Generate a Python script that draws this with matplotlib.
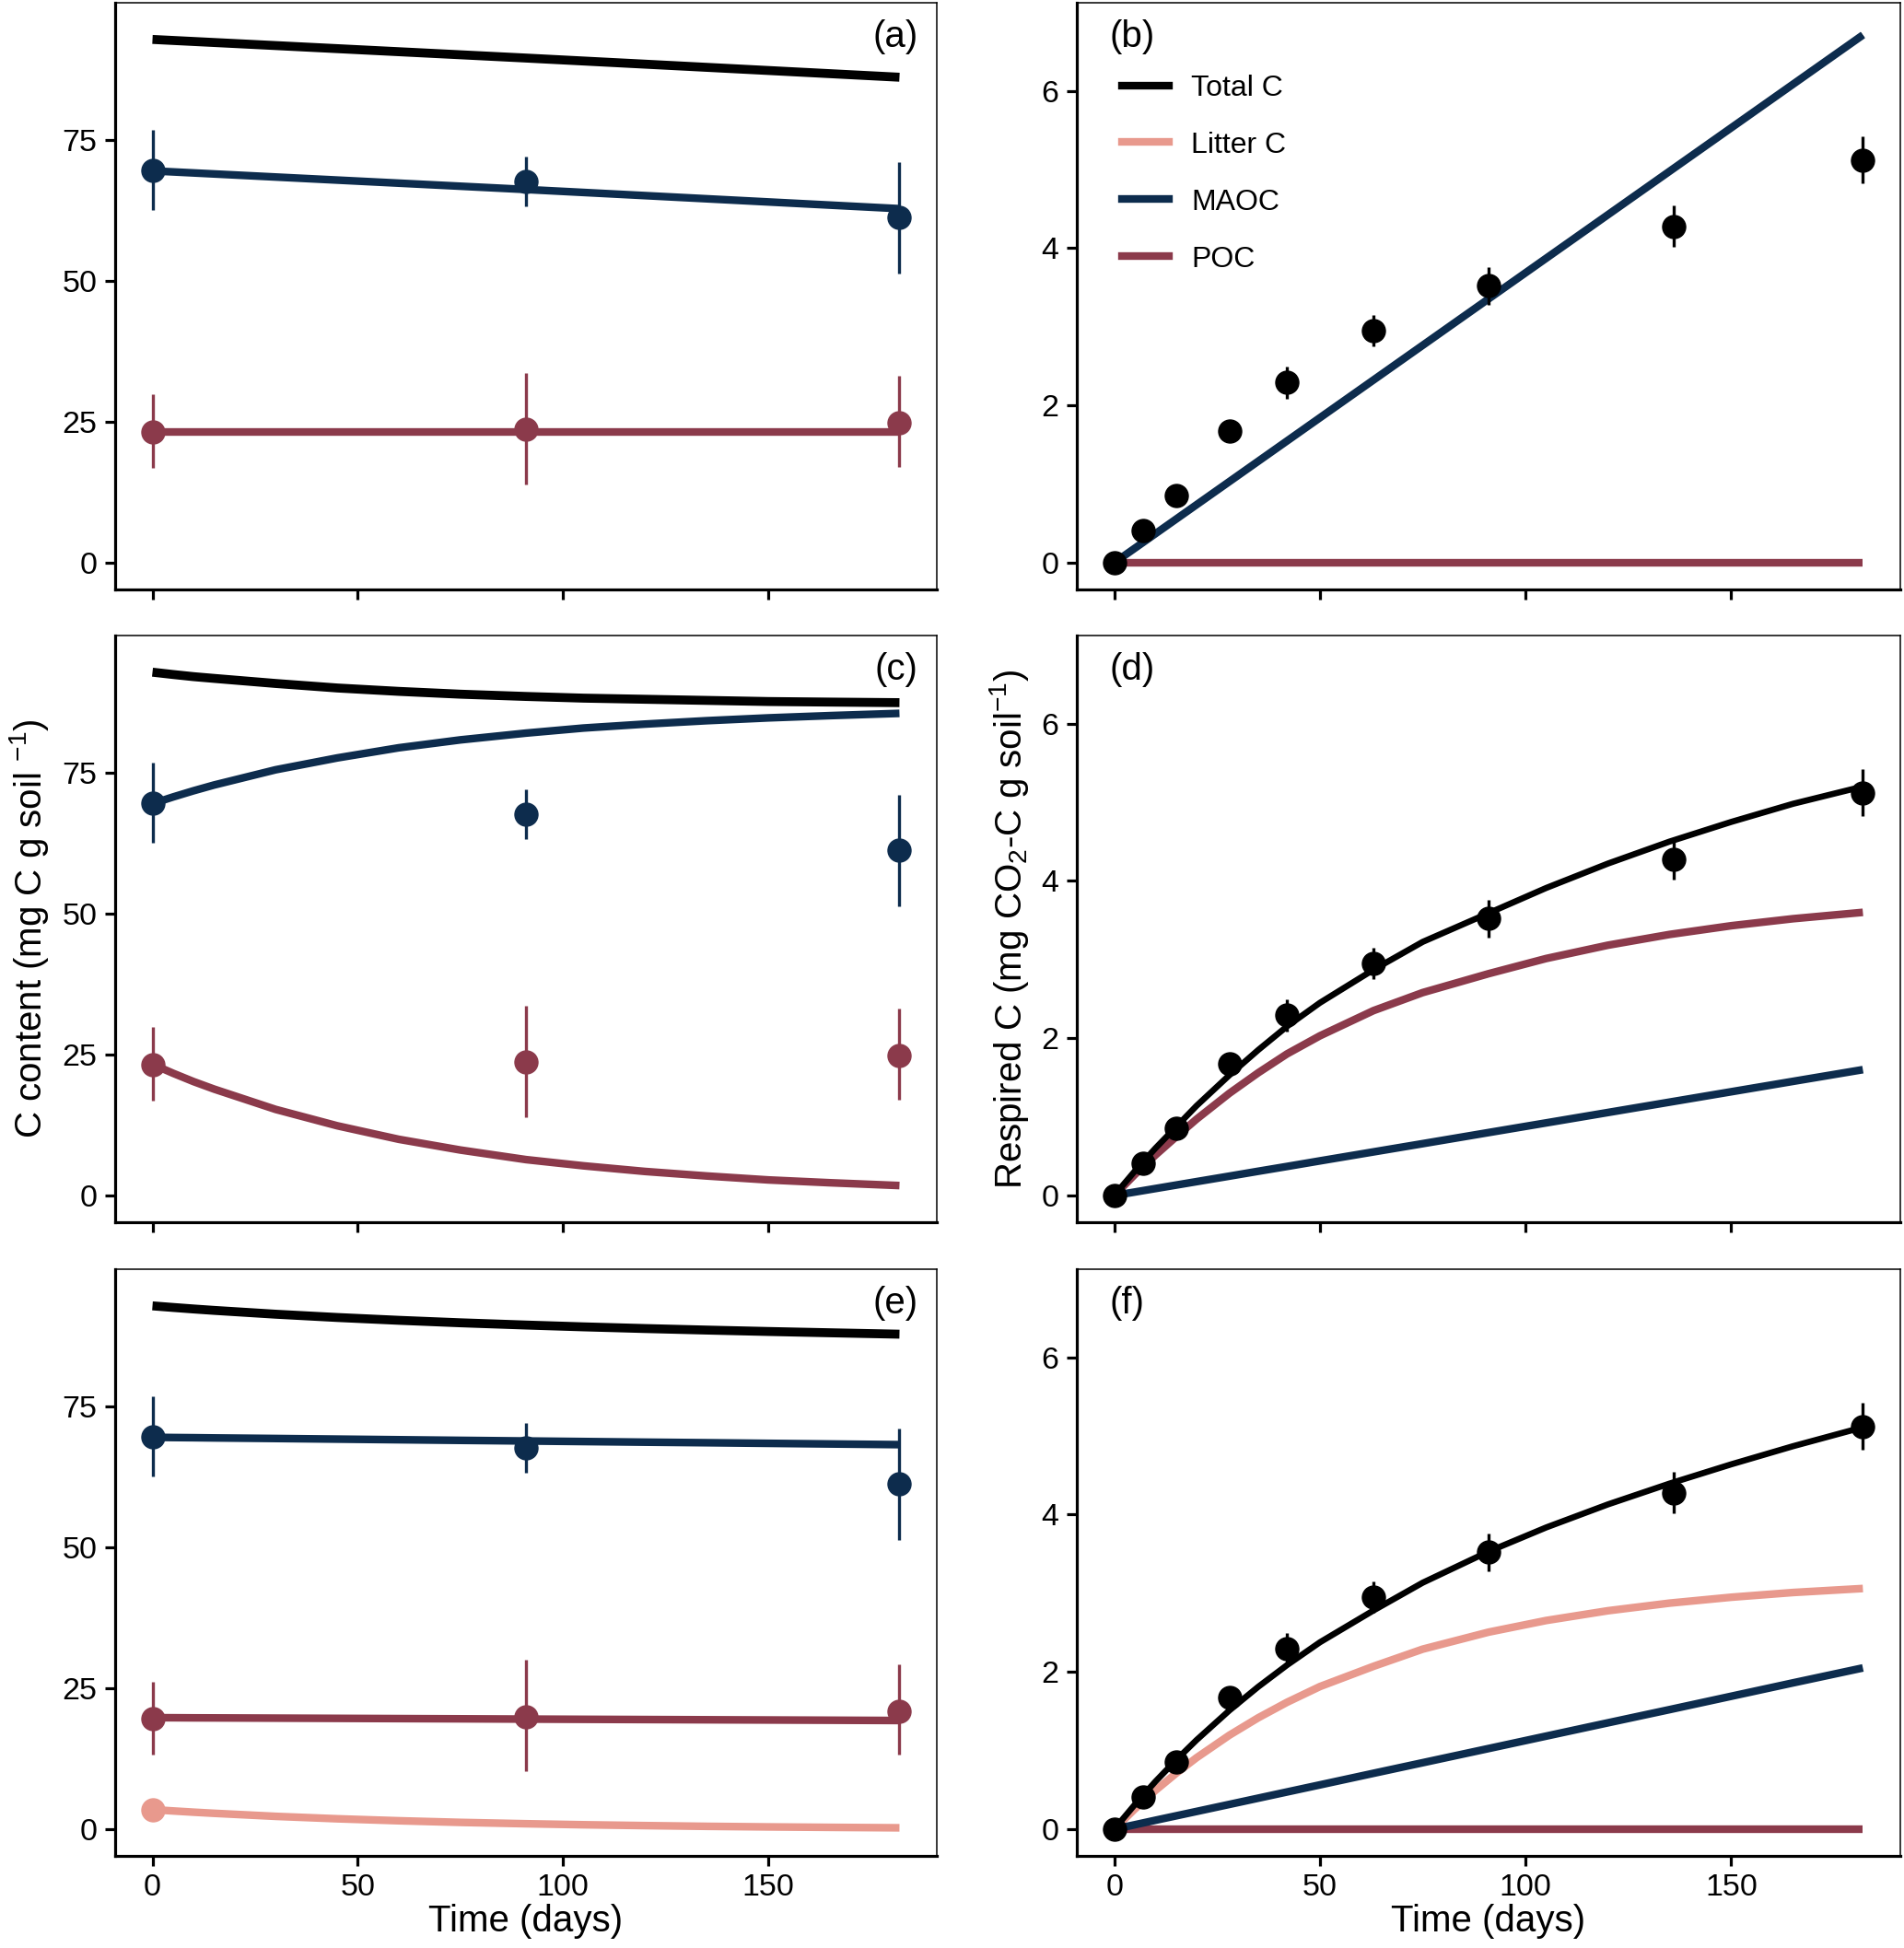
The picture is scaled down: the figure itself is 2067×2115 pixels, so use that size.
import matplotlib
matplotlib.use("Agg")
import matplotlib.pyplot as plt
from matplotlib.lines import Line2D

plt.rcParams['font.family'] = ['Liberation Sans', 'DejaVu Sans']
plt.rcParams['mathtext.fontset'] = 'custom'
plt.rcParams['mathtext.rm'] = 'Liberation Sans'
plt.rcParams['mathtext.it'] = 'Liberation Sans:italic'
plt.rcParams['mathtext.bf'] = 'Liberation Sans:bold'

# ---------------- colours ----------------
C_TOTAL = '#000000'
C_LITTER = '#E8998D'
C_MAOC = '#0D2C4D'
C_POC = '#8B3A4B'

# ---------------- observed fractions (left column) ----------------
obs_days = [0, 91, 182]
maoc_obs = [69.6, 67.7, 61.3]
maoc_lo = [62.6, 63.3, 51.3]
maoc_hi = [76.7, 72.1, 71.1]
poc_obs_ac = [23.2, 23.7, 24.8]
poc_lo_ac = [16.8, 13.9, 17.0]
poc_hi_ac = [29.9, 33.7, 33.1]
poc_obs_e = [19.7, 19.9, 21.0]
poc_lo_e = [13.3, 10.4, 13.3]
poc_hi_e = [26.2, 30.0, 29.2]
litter_obs_day = [0]
litter_obs = [3.5]

# ---------------- model curves (left column) ----------------
days_a = [0, 91, 182]
total_a = [92.8, 89.5, 86.1]
maoc_a = [69.5, 66.2, 62.8]
poc_a = [23.3, 23.3, 23.3]

days_l = [0, 5, 10, 15, 30, 45, 60, 75, 91, 105, 120, 135, 150, 165, 182]
total_c = [92.8, 92.39, 92.01, 91.7, 90.8, 90.0, 89.4, 88.9, 88.5, 88.2, 88.0, 87.8, 87.6, 87.5, 87.4]
maoc_c = [69.5, 70.68, 71.78, 72.8, 75.5, 77.6, 79.4, 80.8, 82.0, 82.9, 83.6, 84.2, 84.7, 85.1, 85.5]
poc_c = [23.3, 21.71, 20.23, 18.9, 15.3, 12.4, 10.0, 8.1, 6.4, 5.3, 4.3, 3.5, 2.8, 2.3, 1.8]

total_e = [92.8, 92.52, 92.25, 92.0, 91.32, 90.74, 90.24, 89.8, 89.4, 89.08, 88.78, 88.51, 88.26, 88.03, 87.78]
maoc_e = [69.5, 69.46, 69.43, 69.39, 69.29, 69.18, 69.07, 68.96, 68.85, 68.75, 68.64, 68.54, 68.43, 68.32, 68.2]
poc_e = [19.8, 19.79, 19.77, 19.76, 19.72, 19.68, 19.64, 19.6, 19.55, 19.51, 19.47, 19.43, 19.39, 19.35, 19.3]
litter_e = [3.5, 3.27, 3.05, 2.85, 2.31, 1.88, 1.53, 1.24, 1.0, 0.82, 0.67, 0.54, 0.44, 0.36, 0.28]

# ---------------- respiration observations (right column) ----------------
resp_days = [0, 7, 15, 28, 42, 63, 91, 136, 182]
resp_obs = [0.0, 0.41, 0.86, 1.68, 2.29, 2.95, 3.52, 4.28, 5.12]
resp_err = [0.0, 0.05, 0.06, 0.14, 0.20, 0.20, 0.24, 0.26, 0.30]

# ---------------- respiration model curves ----------------
days_b = [0, 182]
total_b = [0.0, 6.71]
maoc_b = [0.0, 6.71]
poc_b = [0.0, 0.0]

days_r = [0, 5, 10, 15, 20, 28, 35, 42, 50, 63, 75, 91, 105, 120, 135, 150, 165, 182]
total_d = [0.0, 0.31, 0.60, 0.87, 1.14, 1.53, 1.85, 2.15, 2.45, 2.87, 3.225, 3.59, 3.91, 4.22, 4.50, 4.75, 4.98, 5.20]
poc_d = [0.0, 0.266, 0.513, 0.744, 0.97, 1.30, 1.56, 1.80, 2.03, 2.35, 2.58, 2.82, 3.013, 3.182, 3.319, 3.43, 3.519, 3.60]
maoc_d = [0.0, 0.044, 0.088, 0.132, 0.176, 0.246, 0.308, 0.369, 0.44, 0.554, 0.659, 0.80, 0.923, 1.055, 1.187, 1.319, 1.451, 1.60]

total_f = [0.0, 0.312, 0.605, 0.877, 1.133, 1.51, 1.81, 2.086, 2.376, 2.78, 3.134, 3.53, 3.836, 4.129, 4.394, 4.639, 4.869, 5.11]
litter_f = [0.0, 0.256, 0.492, 0.708, 0.908, 1.195, 1.416, 1.613, 1.813, 2.07, 2.289, 2.505, 2.653, 2.777, 2.874, 2.949, 3.009, 3.06]
maoc_f = [0.0, 0.056, 0.113, 0.169, 0.225, 0.315, 0.394, 0.473, 0.563, 0.71, 0.845, 1.025, 1.183, 1.352, 1.52, 1.69, 1.86, 2.05]
poc_f = [0.0] * len(days_r)

x_ticks = [0, 50, 100, 150]
left_yticks = [0, 25, 50, 75]
right_yticks = [0, 2, 4, 6]
panel_labels = ['(a)', '(b)', '(c)', '(d)', '(e)', '(f)']
legend_labels = ['Total C', 'Litter C', 'MAOC', 'POC']

# ---------------- figure ----------------
W, H = 2067, 2115
fig = plt.figure(figsize=(W / 100, H / 100), dpi=100)

col_x = [125 / W, 1169 / W]
col_w = [892 / W, 894 / W]
row_top = [3, 690, 1378]
row_h = 637

TICK_FS = 24.5
TITLE_FS = 29
PANEL_FS = 29
LEG_FS = 23
LW = 6.0
LW_TOT_L = 7.0
LW_TOT_R = 4.8
MS = 18
ELW = 2.4

axes = []
for r in range(3):
    row = []
    for c in range(2):
        ax = fig.add_axes([col_x[c], 1 - (row_top[r] + row_h) / H, col_w[c], row_h / H])
        row.append(ax)
    axes.append(row)


def style(ax, yticks, ylim, show_xlabels):
    ax.set_xlim(-9.1, 191.1)
    ax.set_ylim(*ylim)
    ax.set_xticks(x_ticks)
    ax.set_yticks(yticks)
    for s in ['top', 'right']:
        ax.spines[s].set_linewidth(1.1)
    for s in ['left', 'bottom']:
        ax.spines[s].set_linewidth(2.3)
    ax.tick_params(axis='both', which='major', length=8, width=2.3,
                   labelsize=TICK_FS, pad=6, color='black', labelcolor='black')
    if not show_xlabels:
        ax.tick_params(axis='x', labelbottom=False)
    else:
        ax.set_xlabel('Time (days)', fontsize=TITLE_FS, labelpad=1)


def obs_left(ax, poc_obs, poc_lo, poc_hi):
    ax.errorbar(obs_days, maoc_obs,
                yerr=[[m - l for m, l in zip(maoc_obs, maoc_lo)], [h - m for m, h in zip(maoc_obs, maoc_hi)]],
                fmt='o', color=C_MAOC, ms=MS, elinewidth=ELW, capsize=0, zorder=5)
    ax.errorbar(obs_days, poc_obs,
                yerr=[[m - l for m, l in zip(poc_obs, poc_lo)], [h - m for m, h in zip(poc_obs, poc_hi)]],
                fmt='o', color=C_POC, ms=MS, elinewidth=ELW, capsize=0, zorder=5)


def obs_right(ax):
    ax.errorbar(resp_days, resp_obs, yerr=resp_err, fmt='o', color='black',
                ms=MS, elinewidth=ELW, capsize=0, zorder=5)


LEFT_YLIM = (-4.7, 99.3)
RIGHT_YLIM = (-0.34, 7.12)

# (a)
ax = axes[0][0]
ax.plot(days_a, total_a, color=C_TOTAL, lw=LW_TOT_L, solid_capstyle='butt')
ax.plot(days_a, maoc_a, color=C_MAOC, lw=LW, solid_capstyle='butt')
ax.plot(days_a, poc_a, color=C_POC, lw=LW, solid_capstyle='butt')
obs_left(ax, poc_obs_ac, poc_lo_ac, poc_hi_ac)
style(ax, left_yticks, LEFT_YLIM, False)

# (c)
ax = axes[1][0]
ax.plot(days_l, total_c, color=C_TOTAL, lw=LW_TOT_L, solid_capstyle='butt', solid_joinstyle='round')
ax.plot(days_l, maoc_c, color=C_MAOC, lw=LW, solid_capstyle='butt', solid_joinstyle='round')
ax.plot(days_l, poc_c, color=C_POC, lw=LW, solid_capstyle='butt', solid_joinstyle='round')
obs_left(ax, poc_obs_ac, poc_lo_ac, poc_hi_ac)
style(ax, left_yticks, LEFT_YLIM, False)
ax.set_ylabel('C content (mg C g soil $^{-1}$)', fontsize=TITLE_FS, labelpad=9)

# (e)
ax = axes[2][0]
ax.plot(days_l, total_e, color=C_TOTAL, lw=LW_TOT_L, solid_capstyle='butt', solid_joinstyle='round')
ax.plot(days_l, maoc_e, color=C_MAOC, lw=LW, solid_capstyle='butt', solid_joinstyle='round')
ax.plot(days_l, poc_e, color=C_POC, lw=LW, solid_capstyle='butt', solid_joinstyle='round')
ax.plot(days_l, litter_e, color=C_LITTER, lw=LW, solid_capstyle='butt', solid_joinstyle='round')
obs_left(ax, poc_obs_e, poc_lo_e, poc_hi_e)
ax.plot(litter_obs_day, litter_obs, 'o', color=C_LITTER, ms=MS, zorder=5)
style(ax, left_yticks, LEFT_YLIM, True)

# (b)
ax = axes[0][1]
ax.plot(days_b, total_b, color=C_TOTAL, lw=LW_TOT_R, solid_capstyle='butt')
ax.plot(days_b, maoc_b, color=C_MAOC, lw=LW, solid_capstyle='butt')
ax.plot(days_b, poc_b, color=C_POC, lw=LW, solid_capstyle='butt')
obs_right(ax)
style(ax, right_yticks, RIGHT_YLIM, False)
handles = [Line2D([0], [0], color=col, lw=LW) for col in [C_TOTAL, C_LITTER, C_MAOC, C_POC]]
ax.legend(handles, legend_labels, loc='upper left', bbox_to_anchor=(0.055, 0.878),
          frameon=False, fontsize=LEG_FS, handlelength=1.6, handletextpad=0.75,
          labelspacing=1.0, borderpad=0, borderaxespad=0)

# (d)
ax = axes[1][1]
ax.plot(days_r, poc_d, color=C_POC, lw=LW, solid_capstyle='butt', solid_joinstyle='round')
ax.plot(days_r, maoc_d, color=C_MAOC, lw=LW, solid_capstyle='butt', solid_joinstyle='round')
ax.plot(days_r, total_d, color=C_TOTAL, lw=LW_TOT_R, solid_capstyle='butt', solid_joinstyle='round')
obs_right(ax)
style(ax, right_yticks, RIGHT_YLIM, False)
ax.set_ylabel('Respired C (mg CO$_2$-C g soil$^{-1}$)', fontsize=TITLE_FS, labelpad=8)

# (f)
ax = axes[2][1]
ax.plot(days_r, poc_f, color=C_POC, lw=LW, solid_capstyle='butt', solid_joinstyle='round')
ax.plot(days_r, litter_f, color=C_LITTER, lw=LW, solid_capstyle='butt', solid_joinstyle='round')
ax.plot(days_r, maoc_f, color=C_MAOC, lw=LW, solid_capstyle='butt', solid_joinstyle='round')
ax.plot(days_r, total_f, color=C_TOTAL, lw=LW_TOT_R, solid_capstyle='butt', solid_joinstyle='round')
obs_right(ax)
style(ax, right_yticks, RIGHT_YLIM, True)

# panel labels
k = 0
for r in range(3):
    for c in range(2):
        ax = axes[r][c]
        if c == 0:
            ax.text(0.977, 0.972, panel_labels[k], transform=ax.transAxes,
                    ha='right', va='top', fontsize=PANEL_FS)
        else:
            ax.text(0.040, 0.972, panel_labels[k], transform=ax.transAxes,
                    ha='left', va='top', fontsize=PANEL_FS)
        k += 1

fig.savefig('out.png', dpi=100)
